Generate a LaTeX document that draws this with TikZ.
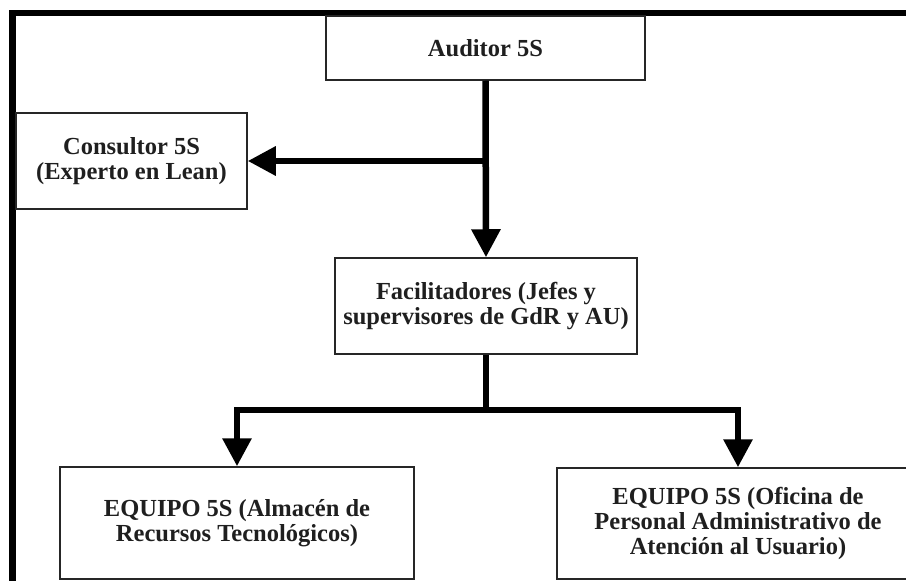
\documentclass[tikz,border=0pt]{standalone}
\usepackage{fontspec}
\setmainfont{Liberation Serif}
\usetikzlibrary{arrows.meta}

\begin{document}
\begin{tikzpicture}[
  x=1bp, y=-1bp,
  orgbox/.style={draw=black!85, line width=1.5bp, fill=white, rectangle,
    inner sep=0pt, align=center, text=black!88,
    font=\bfseries\fontsize{24.5bp}{25bp}\selectfont},
  link/.style={line width=6.5bp, draw=black},
  linkarrow/.style={link, -{Triangle[width=28bp, length=28bp]}},
  frameline/.style={line width=6.5bp, draw=black}
]
\useasboundingbox (0,0) rectangle (906,581);
\clip (0,0) rectangle (906,581);

% outer frame (top and left edges)
\draw[frameline] (12.5,600) -- (12.5,13) -- (930,13);

% boxes
\node[orgbox, minimum width=319bp, minimum height=64bp] (aud) at (485.5,48) {Auditor 5S};
\node[orgbox, minimum width=231bp, minimum height=96bp] (cons) at (131.5,161)
  {Consultor 5S\\(Experto en Lean)};
\node[orgbox, minimum width=302bp, minimum height=96bp] (fac) at (486,306)
  {Facilitadores (Jefes y\\supervisores de GdR y AU)};
\node[orgbox, minimum width=354bp, minimum height=112bp] (eqA) at (237,523)
  {EQUIPO 5S (Almacén de\\Recursos Tecnológicos)};
\node[orgbox, minimum width=362bp, minimum height=111bp] (eqB) at (738,523.5)
  {EQUIPO 5S (Oficina de\\Personal Administrativo de\\Atención al Usuario)};

% junctions
\coordinate (split) at (aud.south |- cons.east);
\coordinate (bus) at (486,410);

% connectors
\draw[linkarrow] (aud.south) -- (fac.north);
\draw[linkarrow] (split) -- (cons.east);
\draw[link] (fac.south) -- (bus);
\draw[linkarrow] (bus) -| (eqA.north);
\draw[linkarrow] (bus) -| (eqB.north);
\end{tikzpicture}
\end{document}
